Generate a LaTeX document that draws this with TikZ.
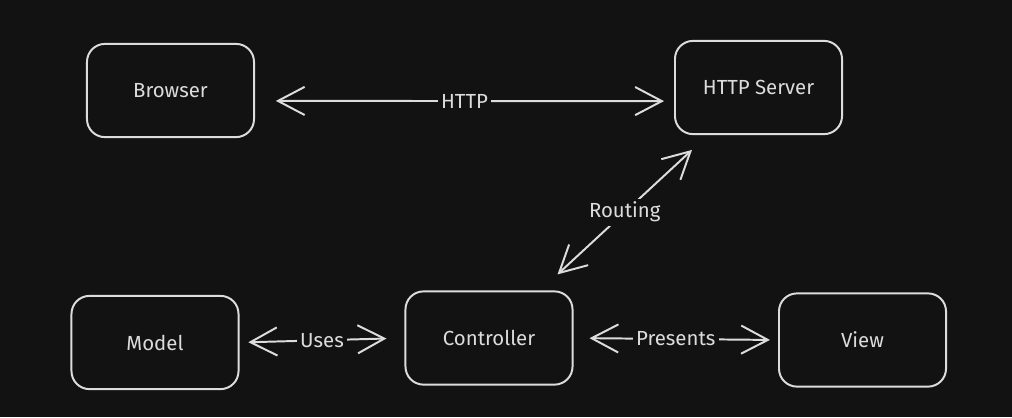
\documentclass[tikz,border=0pt]{standalone}
\usepackage{fontspec}
\setmainfont{Fira Sans}
\usetikzlibrary{arrows.meta}

\definecolor{canvas}{HTML}{121212}
\definecolor{chalk}{HTML}{DCDCDC}

\tikzset{
  block/.style={draw=chalk, line width=1.4pt, rounded corners=0.45cm,
    minimum width=4.175cm, minimum height=2.33cm, text=chalk,
    font=\fontsize{14.5}{17}\selectfont},
  link/.style={draw=chalk, line width=1.4pt, line cap=round,
    {Straight Barb[length=19pt,width=20pt]}-{Straight Barb[length=19pt,width=20pt]}},
  tag/.style={fill=canvas, text=chalk, inner sep=2.5pt,
    font=\fontsize{14.5}{17}\selectfont}
}

\begin{document}
\begin{tikzpicture}[x=0.025cm, y=-0.025cm]

        \fill[canvas] (0, 0) rectangle (1012, 417);
        \useasboundingbox (0, 0) rectangle (1012, 417);

        \node[block] (browser) at (170.5, 90.5) {Browser};
        \node[block] (server) at (758.5, 87.5) {HTTP Server};
        \node[block] (model) at (155, 342.5) {Model};
        \node[block] (controller) at (489, 338) {Controller};
        \node[block] (view) at (862.5, 340) {View};

        \draw[link, shorten <=0.52cm, shorten >=0.25cm]
          ([yshift=-0.26cm]browser.east) -- node[tag] {HTTP} ([yshift=-0.34cm]server.west);
        \draw[link]
          ([xshift=-0.4cm, yshift=0.4cm]controller.north east) -- node[tag] {Routing}
          ([xshift=0.45cm, yshift=-0.37cm]server.south west);
        \draw[link, shorten <=0.22cm, shorten >=0.45cm]
          (model.east) -- node[tag] {Uses} (controller.west);
        \draw[link, shorten <=0.4cm, shorten >=0.2cm]
          (controller.east) -- node[tag] {Presents} (view.west);

      \end{tikzpicture}
\end{document}
